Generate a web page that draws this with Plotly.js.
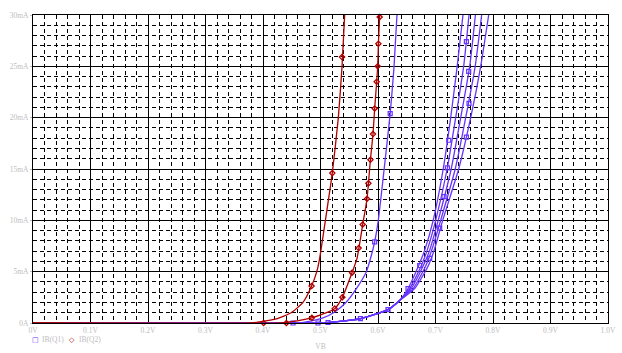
<!DOCTYPE html>
<html>
<head>
<meta charset="utf-8">
<script src="https://cdn.plot.ly/plotly-3.0.1.min.js"></script>
<style>html,body{margin:0;padding:0;background:#fff;}#chart{width:622px;height:353px;}</style>
</head>
<body>
<div id="chart"></div>
<script>
// ---- data (VB in volts, IB in mA) ----
const xTickVals = [0, 0.1, 0.2, 0.3, 0.4, 0.5, 0.6, 0.7, 0.8, 0.9, 1.0];
const xTickText = ["0V", "0.1V", "0.2V", "0.3V", "0.4V", "0.5V", "0.6V", "0.7V", "0.8V", "0.9V", "1.0V"];
const yTickVals = [0, 5, 10, 15, 20, 25, 30];
const yTickText = ["0A", "5mA", "10mA", "15mA", "20mA", "25mA", "30mA"];

// IB(Q2) - red curves
const q2aV = [0, 0.38, 0.394, 0.423, 0.449, 0.4695, 0.4845, 0.4935, 0.4985, 0.5085, 0.5205, 0.531, 0.5375, 0.542];
const q2aI = [0, 0, 0.1, 0.4, 1.0, 2.0, 3.6, 5.0, 6.3, 10, 14.6, 20, 25, 30];
const q2bV = [0, 0.43, 0.446, 0.485, 0.5247, 0.538, 0.5548, 0.5635, 0.5734, 0.5809, 0.5868, 0.5913, 0.5942, 0.5977, 0.5995, 0.6007, 0.6029];
const q2bI = [0, 0, 0.1, 0.5, 1.4, 2.5, 4.9, 6.3, 9.6, 12.1, 15.9, 18.4, 20.9, 23.5, 25.0, 27.2, 30];

// IB(Q1) - blue curves
const q1aV = [0, 0.46, 0.4755, 0.5043, 0.5247, 0.545, 0.5624, 0.5798, 0.5885, 0.5942, 0.6005, 0.6105, 0.6212, 0.6278, 0.633];
const q1aI = [0, 0, 0.1, 0.49, 1.07, 2.05, 3.35, 5.0, 6.6, 7.9, 10, 14.9, 20.4, 24.9, 30];

const q1bV = [0, 0.49, 0.5148, 0.5699, 0.6174, 0.6377, 0.6522, 0.6696, 0.6812, 0.6960, 0.7134, 0.7264, 0.7377, 0.7478];
const q1bI = [0, 0, 0.07, 0.43, 1.3, 2.2, 3.35, 5.45, 7.1, 10, 15, 20, 25, 30];
const q1cV = [0, 0.49, 0.5148, 0.5699, 0.6174, 0.6377, 0.6551, 0.6743, 0.6856, 0.7003, 0.7203, 0.7351, 0.7490, 0.7583];
const q1cI = [0, 0, 0.07, 0.43, 1.3, 2.2, 3.35, 5.45, 7.1, 10, 15, 20, 25, 30];
const q1dV = [0, 0.49, 0.5148, 0.5699, 0.6174, 0.6377, 0.6577, 0.6777, 0.6899, 0.7047, 0.7273, 0.7438, 0.7595, 0.7694];
const q1dI = [0, 0, 0.07, 0.43, 1.3, 2.2, 3.35, 5.45, 7.1, 10, 15, 20, 25, 30];
const q1eV = [0, 0.49, 0.5148, 0.5699, 0.6174, 0.6377, 0.6612, 0.6821, 0.6934, 0.7090, 0.7343, 0.7525, 0.7690, 0.7803];
const q1eI = [0, 0, 0.07, 0.43, 1.3, 2.2, 3.35, 5.45, 7.1, 10, 15, 20, 25, 30];
const q1fV = [0, 0.49, 0.5148, 0.5699, 0.6174, 0.6377, 0.6638, 0.6864, 0.6977, 0.7125, 0.7403, 0.7612, 0.7786, 0.7925];
const q1fI = [0, 0, 0.07, 0.43, 1.3, 2.2, 3.35, 5.45, 7.1, 10, 15, 20, 25, 30];

// marker points
const q1MarkV = [0.4522, 0.4957, 0.5131, 0.5694, 0.6174, 0.5942, 0.6212, 0.6522, 0.6725, 0.6899, 0.7073, 0.7148, 0.7207, 0.7230, 0.7537, 0.7583, 0.7537, 0.7577];
const q1MarkI = [0, 0, 0.05, 0.43, 1.3, 7.9, 20.4, 3.35, 5.6, 6.3, 9.25, 12.3, 15.1, 17.8, 18.1, 21.4, 27.4, 24.5];
const q2MarkV = [0.401, 0.4407, 0.4845, 0.5205, 0.5374, 0.485, 0.5247, 0.538, 0.5548, 0.5664, 0.5734, 0.5809, 0.5833, 0.5868, 0.5913, 0.5942, 0.5977, 0.5995, 0.6007, 0.6029];
const q2MarkI = [0, 0, 3.6, 14.6, 25.9, 0.5, 1.4, 2.5, 4.9, 7.3, 9.6, 12.1, 13.6, 15.9, 18.4, 20.9, 23.5, 25.0, 27.2, 29.8];

// ---- styles ----
const BLUE = "#6633ff";
const RED = "#b00000";
const GRAY = "#bdbdbd";
const FONT = "Liberation Serif, DejaVu Serif, serif";

function curve(x, y, color, name) {
  return {x: x, y: y, type: "scatter", mode: "lines", name: name, showlegend: false,
          line: {color: color, width: 1.3, shape: "spline", smoothing: 0.5}, hoverinfo: "skip"};
}

const traces = [
  curve(q1aV, q1aI, BLUE, "IB(Q1)"),
  curve(q1bV, q1bI, BLUE, "IB(Q1)"),
  curve(q1cV, q1cI, BLUE, "IB(Q1)"),
  curve(q1dV, q1dI, BLUE, "IB(Q1)"),
  curve(q1eV, q1eI, BLUE, "IB(Q1)"),
  curve(q1fV, q1fI, BLUE, "IB(Q1)"),
  {x: q1MarkV, y: q1MarkI, type: "scatter", mode: "markers", showlegend: false, name: "IB(Q1)",
   marker: {symbol: "square-open", size: 4, color: BLUE, line: {width: 1.2, color: BLUE}}, cliponaxis: false},
  curve(q2aV, q2aI, RED, "IB(Q2)"),
  curve(q2bV, q2bI, RED, "IB(Q2)"),
  {x: q2MarkV, y: q2MarkI, type: "scatter", mode: "markers", showlegend: false, name: "IB(Q2)",
   marker: {symbol: "diamond-open", size: 4, color: RED, line: {width: 1.3, color: RED}}, cliponaxis: false}
];

const layout = {
  width: 622, height: 353,
  margin: {l: 33, r: 14, t: 15, b: 30, pad: 0},
  paper_bgcolor: "#ffffff", plot_bgcolor: "#ffffff",
  showlegend: false,
  font: {family: FONT, size: 7.5, color: GRAY},
  xaxis: {
    range: [0, 1], tickmode: "array", tickvals: xTickVals, ticktext: xTickText,
    showgrid: true, gridcolor: "#000000", gridwidth: 1,
    minor: {tickmode: "linear", tick0: 0, dtick: 0.02, showgrid: true, gridcolor: "#000000", griddash: "4px,3px", gridwidth: 1},
    showline: true, linecolor: "#000000", linewidth: 1, mirror: true,
    zeroline: false, ticks: "", ticklabelstandoff: 0,
    tickfont: {family: FONT, size: 7.5, color: GRAY},
    title: {text: "VB", font: {family: FONT, size: 7.5, color: GRAY}, standoff: 9},
    automargin: false, fixedrange: true
  },
  yaxis: {
    range: [0, 30], tickmode: "array", tickvals: yTickVals, ticktext: yTickText,
    showgrid: true, gridcolor: "#000000", gridwidth: 1,
    minor: {tickmode: "linear", tick0: 0, dtick: 1, showgrid: true, gridcolor: "#000000", griddash: "4px,3px", gridwidth: 1},
    showline: true, linecolor: "#000000", linewidth: 1, mirror: true,
    zeroline: false, ticks: "outside", ticklen: 2, tickcolor: GRAY, ticklabelstandoff: 0,
    tickfont: {family: FONT, size: 7.5, color: GRAY},
    automargin: false, fixedrange: true
  },
  annotations: [
    {xref: "paper", yref: "paper", x: 0.0035, y: -0.055, xanchor: "center", yanchor: "middle", showarrow: false,
     text: "□", font: {family: "DejaVu Sans", size: 7, color: BLUE}},
    {xref: "paper", yref: "paper", x: 0.013, y: -0.055, xanchor: "left", yanchor: "middle", showarrow: false,
     text: "IB(Q1)", font: {family: FONT, size: 7.5, color: GRAY}},
    {xref: "paper", yref: "paper", x: 0.067, y: -0.055, xanchor: "center", yanchor: "middle", showarrow: false,
     text: "◇", font: {family: "DejaVu Sans", size: 7, color: RED}},
    {xref: "paper", yref: "paper", x: 0.076, y: -0.055, xanchor: "left", yanchor: "middle", showarrow: false,
     text: "IB(Q2)", font: {family: FONT, size: 7.5, color: GRAY}}
  ]
};

Plotly.newPlot("chart", traces, layout, {staticPlot: true, displayModeBar: false});
</script>
</body>
</html>
